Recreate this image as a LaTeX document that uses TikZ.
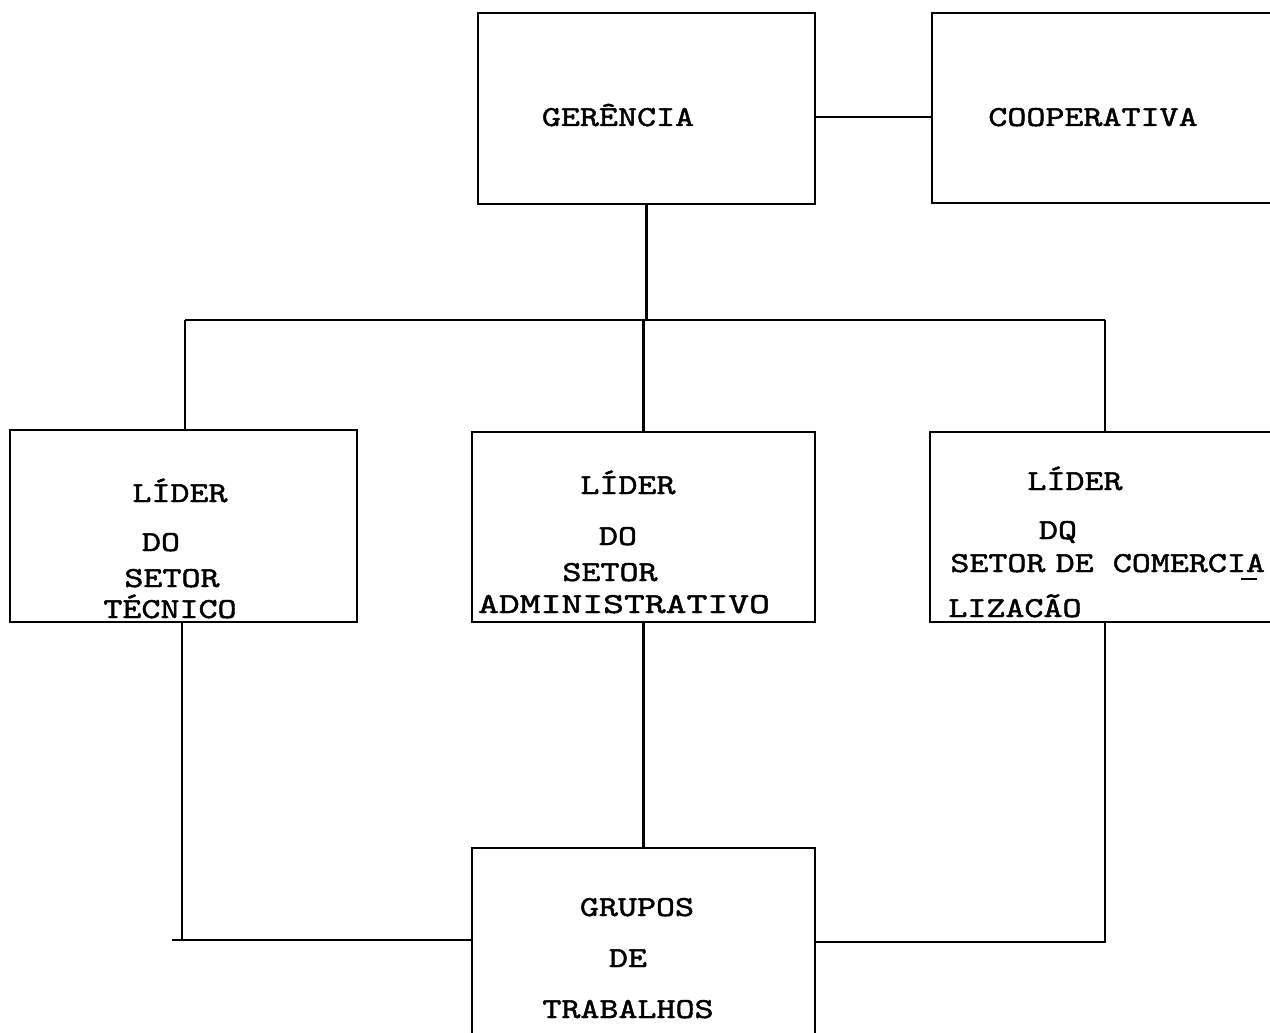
\documentclass[tikz,border=0pt]{standalone}
\usepackage{fontspec}
\newfontfamily\twf{lmmono10-regular}[Extension=.otf, FakeBold=1.6, FakeStretch=1.25]
\newfontfamily\twfw{lmmono10-regular}[Extension=.otf, FakeBold=1.6, FakeStretch=1.37]
\begin{document}
\begin{tikzpicture}[x=0.02cm,y=-0.02cm,
  box/.style={draw, line width=1.3pt, inner sep=0pt},
  conn/.style={line width=1.3pt},
  lbl/.style={font=\twf\fontsize{16.5}{20}\selectfont, anchor=base, inner sep=0pt}]
\useasboundingbox (0,0) rectangle (1270,1033);
\fill[white] (0,0) rectangle (1270,1033);
% boxes
\node[box, minimum width=6.74cm, minimum height=3.82cm] (ger) at (646.5,108.5) {};
\node[box, minimum width=6.86cm, minimum height=3.80cm] (coop) at (1103.5,108) {};
\node[box, minimum width=6.94cm, minimum height=3.84cm] (tec) at (183.5,526) {};
\node[box, minimum width=6.86cm, minimum height=3.80cm] (adm) at (643.5,527) {};
\node[box, minimum width=6.90cm, minimum height=3.80cm] (com) at (1102.5,527) {};
\node[box, minimum width=6.86cm, minimum height=3.84cm] (grp) at (643.5,944) {};
% labels
\node[lbl] (lger) at (618,126) {GERÊNCIA};
\node[lbl] (lcoop) at (1093,126) {COOPERATIVA};
\node[lbl] (tec1) at (180,502) {LÍDER};
\node[lbl] (tec2) at (161,551) {DO};
\node[lbl] (tec3) at (172,587) {SETOR};
\node[lbl] (tec4) at (170,618) {TÉCNICO};
\node[lbl] (adm1) at (628,494) {LÍDER};
\node[lbl] (adm2) at (618,545) {DO};
\node[lbl] (adm3) at (610,581) {SETOR};
\node[lbl,font=\twfw\fontsize{16.5}{20}\selectfont] (adm4) at (624,613) {ADMINISTRATIVO};
\node[lbl] (com1) at (1075,490) {LÍDER};
\node[lbl] (com2) at (1058,539) {DQ};
\node[lbl, anchor=base west] (com3) at (950,572) {SETOR\hspace{-5pt} DE COMERCIA};
\node[lbl, anchor=base west] (com4) at (948,617) {LIZACÃO};
\node[lbl] (grp1) at (637,916) {GRUPOS};
\node[lbl] (grp2) at (628,967) {DE};
\node[lbl] (grp3) at (628,1018) {TRABALHOS};
\draw[line width=0.8pt] (1241,579) -- (1257,579);
% connectors
\coordinate (gc) at (815,117);
\draw[conn] (gc) -- (gc -| coop.west);
\coordinate (barL) at (185,320);
\coordinate (barR) at (1105,320);
\draw[conn] (ger.south) -- (ger.south |- barL);
\draw[conn] (barL) -- (barR);
\draw[conn] (barL) -- (barL |- tec.north);
\draw[conn] (adm.north) -- (adm.north |- barL);
\draw[conn] (barR) -- (barR |- com.north);
\draw[conn] (adm.south) -- (grp.north);
\coordinate (jL) at (182,940);
\coordinate (jL0) at (172,940);
\coordinate (jR) at (1105,942);
\draw[conn] (jL |- tec.south) -- (jL);
\draw[conn] (jL0) -- (jL0 -| grp.west);
\draw[conn] (jR |- com.south) -- (jR) -- (jR -| grp.east);
\end{tikzpicture}
\end{document}
